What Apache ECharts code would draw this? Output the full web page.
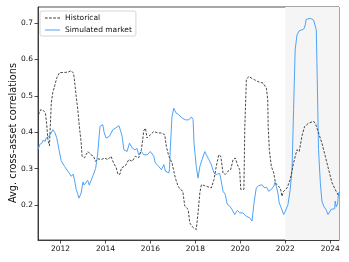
<!DOCTYPE html>
<html>
<head>
<meta charset="utf-8">
<script src="https://cdn.jsdelivr.net/npm/echarts@6/dist/echarts.min.js"></script>
<style>html,body{margin:0;padding:0;background:#fff}#c{width:349px;height:262px}</style>
</head>
<body>
<div id="c"></div>
<script>
const histYears = [2011.02,2011.12,2011.23,2011.33,2011.39,2011.44,2011.51,2011.59,2011.66,2011.73,2011.84,2011.96,2012.11,2012.33,2012.48,2012.58,2012.62,2012.70,2012.77,2012.84,2012.92,2012.96,2013.07,2013.14,2013.22,2013.36,2013.47,2013.56,2013.66,2013.81,2013.96,2014.11,2014.25,2014.36,2014.48,2014.56,2014.65,2014.71,2014.89,2015.04,2015.19,2015.33,2015.48,2015.60,2015.71,2015.78,2015.85,2016.00,2016.15,2016.34,2016.49,2016.64,2016.71,2016.82,2016.96,2017.11,2017.23,2017.33,2017.44,2017.53,2017.68,2017.75,2017.90,2018.04,2018.12,2018.20,2018.27,2018.42,2018.56,2018.71,2018.83,2018.93,2019.04,2019.13,2019.23,2019.33,2019.45,2019.57,2019.68,2019.78,2019.87,2019.97,2020.02,2020.09,2020.16,2020.20,2020.27,2020.37,2020.49,2020.64,2020.79,2021.01,2021.16,2021.22,2021.24,2021.29,2021.38,2021.49,2021.56,2021.68,2021.78,2021.85,2021.93,2022.08,2022.22,2022.37,2022.52,2022.62,2022.74,2022.86,2023.04,2023.26,2023.36,2023.48,2023.63,2023.78,2023.93,2024.08,2024.26,2024.38];
const histValues = [0.448,0.462,0.460,0.453,0.420,0.380,0.363,0.480,0.510,0.525,0.550,0.564,0.564,0.565,0.569,0.562,0.544,0.498,0.462,0.416,0.371,0.334,0.330,0.338,0.347,0.338,0.334,0.320,0.327,0.325,0.329,0.325,0.334,0.316,0.302,0.284,0.285,0.302,0.308,0.325,0.320,0.334,0.330,0.352,0.405,0.411,0.384,0.393,0.402,0.398,0.398,0.393,0.361,0.334,0.316,0.274,0.252,0.243,0.238,0.197,0.188,0.151,0.138,0.133,0.179,0.234,0.256,0.253,0.250,0.247,0.270,0.306,0.338,0.334,0.288,0.284,0.293,0.297,0.325,0.329,0.311,0.297,0.243,0.238,0.243,0.416,0.544,0.553,0.549,0.544,0.539,0.535,0.521,0.489,0.416,0.352,0.306,0.288,0.261,0.252,0.247,0.224,0.238,0.247,0.270,0.316,0.352,0.347,0.389,0.416,0.425,0.430,0.421,0.398,0.370,0.334,0.297,0.261,0.238,0.225];
const simYears = [2011.02,2011.07,2011.17,2011.23,2011.32,2011.36,2011.47,2011.59,2011.66,2011.76,2011.83,2011.88,2011.94,2012.03,2012.18,2012.25,2012.33,2012.41,2012.48,2012.56,2012.62,2012.70,2012.76,2012.82,2012.88,2012.92,2013.00,2013.05,2013.11,2013.21,2013.28,2013.32,2013.44,2013.56,2013.61,2013.66,2013.72,2013.76,2013.88,2013.94,2014.03,2014.18,2014.33,2014.44,2014.60,2014.67,2014.74,2014.82,2014.96,2015.07,2015.19,2015.31,2015.41,2015.48,2015.60,2015.71,2015.85,2016.00,2016.08,2016.15,2016.22,2016.37,2016.49,2016.60,2016.67,2016.82,2016.85,2016.89,2016.96,2017.04,2017.14,2017.26,2017.41,2017.56,2017.71,2017.82,2017.90,2017.94,2018.04,2018.12,2018.20,2018.30,2018.42,2018.49,2018.60,2018.71,2018.83,2018.93,2019.08,2019.14,2019.23,2019.33,2019.42,2019.53,2019.63,2019.75,2019.87,2019.97,2020.12,2020.27,2020.42,2020.52,2020.61,2020.71,2020.82,2020.96,2021.08,2021.17,2021.26,2021.38,2021.49,2021.54,2021.61,2021.68,2021.73,2021.82,2021.88,2021.93,2022.00,2022.12,2022.22,2022.30,2022.37,2022.44,2022.52,2022.62,2022.74,2022.84,2022.89,2022.93,2023.11,2023.26,2023.33,2023.38,2023.42,2023.48,2023.56,2023.63,2023.71,2023.81,2023.90,2023.97,2024.04,2024.11,2024.20,2024.22,2024.27,2024.33,2024.37];
const simValues = [0.354,0.366,0.370,0.378,0.375,0.384,0.388,0.398,0.407,0.398,0.385,0.370,0.350,0.322,0.306,0.310,0.293,0.290,0.279,0.285,0.270,0.243,0.232,0.219,0.222,0.233,0.263,0.255,0.255,0.268,0.255,0.252,0.280,0.300,0.320,0.343,0.390,0.416,0.421,0.400,0.384,0.389,0.407,0.411,0.418,0.405,0.389,0.352,0.347,0.370,0.357,0.352,0.355,0.338,0.347,0.338,0.338,0.347,0.345,0.334,0.316,0.306,0.297,0.311,0.293,0.288,0.300,0.361,0.443,0.466,0.453,0.448,0.439,0.434,0.434,0.442,0.435,0.370,0.306,0.274,0.306,0.325,0.347,0.338,0.325,0.311,0.288,0.284,0.287,0.270,0.238,0.229,0.202,0.197,0.188,0.174,0.185,0.179,0.178,0.169,0.165,0.156,0.206,0.247,0.253,0.256,0.247,0.249,0.238,0.243,0.252,0.262,0.250,0.229,0.206,0.192,0.188,0.174,0.183,0.201,0.243,0.297,0.462,0.626,0.667,0.679,0.681,0.685,0.695,0.710,0.713,0.708,0.704,0.681,0.553,0.352,0.261,0.211,0.197,0.188,0.174,0.169,0.188,0.190,0.190,0.211,0.195,0.205,0.235];
const xTicks = [2012,2014,2016,2018,2020,2022,2024];
const yTicks = [0.2,0.3,0.4,0.5,0.6,0.7];
const xRange = [2011.0, 2024.39];
const yRange = [0.104, 0.744];
const shadeRange = [2022.0, 2024.39];
const seriesNames = ['Historical','Simulated market'];
const yTitle = 'Avg. cross-asset correlations';

const font = 'DejaVu Sans';
const histColor = '#333';
const simColor = '#4fa3f7';
const chart = echarts.init(document.getElementById('c'), null, {renderer:'canvas'});
chart.setOption({
  animation: false,
  backgroundColor: '#fff',
  textStyle: {fontFamily: font},
  grid: {left: 38, top: 7, right: 10, bottom: 22, show: true, borderColor: '#222', borderWidth: 0.8, backgroundColor: 'transparent'},
  legend: {
    show: true, orient: 'vertical', left: 40, top: 11,
    backgroundColor: 'rgba(255,255,255,0.85)', borderColor: '#ccc', borderWidth: 0.8, borderRadius: 2,
    padding: [3, 4, 2, 5], itemGap: 4, itemWidth: 15, itemHeight: 8,
    textStyle: {fontFamily: font, fontSize: 7.5, color: '#111'},
    data: [
      {name: seriesNames[0], icon: 'path://M0,0h2.6v1h-2.6z M4.1,0h2.6v1h-2.6z M8.2,0h2.6v1h-2.6z M12.3,0h2.6v1h-2.6z'},
      {name: seriesNames[1], icon: 'path://M0,0h15v1h-15z'}
    ]
  },
  graphic: [{
    type: 'text', x: 13, y: 133, rotation: Math.PI / 2,
    style: {text: yTitle, fontFamily: font, fontSize: 9.8, fill: '#111', align: 'center', verticalAlign: 'middle'}
  }],
  xAxis: {
    type: 'value', min: xRange[0], max: xRange[1],
    axisLine: {show: true, lineStyle: {color: '#222', width: 0.8}},
    axisTick: {show: true, length: 3.5, lineStyle: {color: '#222', width: 0.8}, customValues: xTicks},
    axisLabel: {fontFamily: font, fontSize: 7.5, color: '#111', margin: 5, customValues: xTicks, formatter: v => String(Math.round(v))},
    splitLine: {show: false}
  },
  yAxis: {
    type: 'value', min: yRange[0], max: yRange[1],
    axisLine: {show: true, lineStyle: {color: '#222', width: 0.8}},
    axisTick: {show: true, length: 3.5, lineStyle: {color: '#222', width: 0.8}, customValues: yTicks},
    axisLabel: {fontFamily: font, fontSize: 7.5, color: '#111', margin: 5, customValues: yTicks, formatter: v => v.toFixed(1)},
    splitLine: {show: false}
  },
  series: [
    {
      name: seriesNames[0], type: 'line', showSymbol: false, symbol: 'none', z: 3,
      data: histYears.map((x, i) => [x, histValues[i]]),
      lineStyle: {color: histColor, width: 0.9, type: [2.5, 1.5]},
      itemStyle: {color: histColor},
      markArea: {silent: true, itemStyle: {color: '#f5f5f5', borderWidth: 0}, data: [[{xAxis: shadeRange[0]}, {xAxis: shadeRange[1]}]]}
    },
    {
      name: seriesNames[1], type: 'line', showSymbol: false, symbol: 'none', z: 2,
      data: simYears.map((x, i) => [x, simValues[i]]),
      lineStyle: {color: simColor, width: 1},
      itemStyle: {color: simColor}
    }
  ]
});
</script>
</body>
</html>
